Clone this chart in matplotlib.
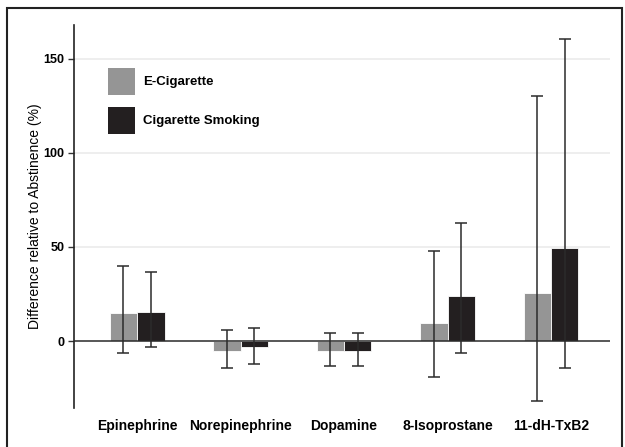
import matplotlib
matplotlib.use("Agg")
import matplotlib.pyplot as plt
from matplotlib.patches import Patch, Rectangle
import numpy as np

plt.rcParams['font.family'] = ['Liberation Sans', 'DejaVu Sans']

categories = ["Epinephrine", "Norepinephrine", "Dopamine", "8-Isoprostane", "11-dH-TxB2"]
ecig_mean = [15.0, -5.2, -5.2, 9.8, 25.5]
ecig_upper = [40.0, 5.8, 4.3, 47.7, 130.0]
ecig_lower = [-6.2, -14.6, -13.1, -19.0, -31.7]
smoke_mean = [15.2, -3.4, -5.2, 23.9, 49.6]
smoke_upper = [36.5, 7.1, 4.3, 62.9, 160.6]
smoke_lower = [-3.4, -12.4, -13.1, -6.2, -14.4]
series_labels = ["E-Cigarette", "Cigarette Smoking"]
yticks = [0, 50, 100, 150]

gray = "#959595"
black = "#231f20"
err_color = "#2b2b2b"

W, H = 625, 447
fig = plt.figure(figsize=(W/100, H/100), dpi=100)
ax = fig.add_axes([74/W, 1-408/H, (610-74)/W, (408-25)/H])

x = np.arange(len(categories))
w = 0.265

for yv in yticks[1:]:
    ax.axhline(yv, color="#ebebeb", lw=1.2, zorder=0)
ax.axhline(0, color="#2a2a2a", lw=1.1, zorder=3)

for off, mean, up, lo, col in [(-w/2, ecig_mean, ecig_upper, ecig_lower, gray),
                               (w/2, smoke_mean, smoke_upper, smoke_lower, black)]:
    mean = np.array(mean); up = np.array(up); lo = np.array(lo)
    ax.bar(x + off, mean, width=w, color=col, edgecolor="white", lw=0.6, zorder=2)
    ax.errorbar(x + off, mean, yerr=[mean - lo, up - mean], fmt="none",
                ecolor=err_color, elinewidth=1.1, capsize=4.5, capthick=1.1, zorder=4)

ax.set_xlim(-0.61, 4.57)
ax.set_ylim(-35.6, 168)
ax.set_yticks(yticks)
ax.set_yticklabels([str(t) for t in yticks], fontsize=9, fontweight="bold")
ax.tick_params(axis="y", length=4, width=1, pad=3, color="#333333")
ax.set_xticks(x)
ax.set_xticklabels(categories, fontsize=10, fontweight="bold")
ax.tick_params(axis="x", length=0, pad=8)
for s in ["top", "right", "bottom"]:
    ax.spines[s].set_visible(False)
ax.spines["left"].set_linewidth(1.2)
ax.spines["left"].set_color("#222222")
ax.set_ylabel("Difference relative to Abstinence (%)", fontsize=10)
ax.yaxis.set_label_coords((42-74)/536, 0.5)

handles = [Patch(facecolor=gray, edgecolor="none"), Patch(facecolor=black, edgecolor="none")]
ax.legend(handles, series_labels, loc="upper left",
          bbox_to_anchor=((108-74)/536, (408-68)/383),
          frameon=False, borderpad=0, borderaxespad=0,
          handlelength=2.05, handleheight=2.77, labelspacing=0.9,
          handletextpad=0.6, prop={"weight": "bold", "size": 9.5})

fig.patches.append(Rectangle((7/W, -0.05), 615/W, 1.05 - 8/H, transform=fig.transFigure,
                             fill=False, edgecolor="#222222", lw=1.5))

fig.savefig("out.png", dpi=100)
